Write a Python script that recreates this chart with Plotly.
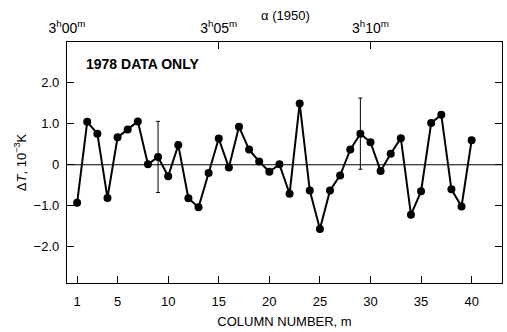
import plotly.graph_objects as go

columns = list(range(1, 41))
delta_t = [-0.93, 1.05, 0.76, -0.81, 0.67, 0.86, 1.06, 0.01, 0.19, -0.28,
           0.48, -0.82, -1.04, -0.20, 0.64, -0.07, 0.93, 0.37, 0.08, -0.17,
           0.01, -0.71, 1.50, -0.63, -1.57, -0.63, -0.26, 0.37, 0.76, 0.55,
           -0.15, 0.27, 0.65, -1.22, -0.65, 1.02, 1.22, -0.60, -1.02, 0.60]
err_cols = [9, 29]
err_vals = [0.87, 0.87]
x_ticks = [1, 5, 10, 15, 20, 25, 30, 35, 40]
y_ticks = [2.0, 1.0, 0, -1.0, -2.0]
y_labels = ["2.0", "1.0", "0", "\u22121.0", "\u22122.0"]
ra_pos = [0, 15, 30]
ra_labels = ["3<sup>h</sup>00<sup>m</sup>", "3<sup>h</sup>05<sup>m</sup>", "3<sup>h</sup>10<sup>m</sup>"]

font = "Liberation Sans, Arial, sans-serif"

fig = go.Figure()
fig.add_trace(go.Scatter(
    x=err_cols,
    y=[delta_t[c - 1] for c in err_cols],
    mode="markers", marker=dict(size=1, color="rgba(0,0,0,0)"),
    error_y=dict(type="data", array=err_vals, visible=True, color="black",
                 thickness=1, width=2),
    showlegend=False, hoverinfo="skip"))
fig.add_trace(go.Scatter(
    x=columns, y=delta_t, mode="lines+markers",
    line=dict(color="black", width=2),
    marker=dict(size=8, color="black"),
    showlegend=False))
fig.add_trace(go.Scatter(x=[0, 43], y=[None, None], xaxis="x2", mode="markers",
                         showlegend=False, hoverinfo="skip"))

fig.add_shape(type="line", xref="x", yref="y", x0=0, x1=43, y0=0, y1=0,
              line=dict(color="black", width=1), layer="below")

fig.add_annotation(text="<b>1978 DATA ONLY</b>", xref="paper", yref="paper",
                   x=0.04, y=0.91, xanchor="left", yanchor="middle",
                   showarrow=False, font=dict(size=14, color="black", family=font))
fig.add_annotation(text="\u03b1 (1950)", xref="paper", yref="paper",
                   x=0.503, y=1.108, xanchor="center", yanchor="middle",
                   showarrow=False, font=dict(size=13, color="black", family=font))

axis_common = dict(showline=True, linecolor="black", linewidth=1.3,
                   ticks="inside", ticklen=7, tickcolor="black",
                   showgrid=False, zeroline=False)

fig.update_layout(
    width=507, height=332,
    margin=dict(l=67, r=5, t=42, b=49),
    paper_bgcolor="white", plot_bgcolor="white",
    font=dict(family=font, color="black"),
    xaxis=dict(range=[0, 43], tickvals=x_ticks, mirror=False,
               ticklabelstandoff=6,
               tickfont=dict(size=13, color="black", family=font),
               title=dict(text="COLUMN NUMBER, m", font=dict(size=13, family=font), standoff=9),
               **axis_common),
    xaxis2=dict(range=[0, 43], overlaying="x", side="top", tickvals=ra_pos,
                ticktext=ra_labels, ticklabelstandoff=2,
                tickfont=dict(size=14, color="black", family=font),
                **axis_common),
    yaxis=dict(range=[-2.89, 3.0], tickvals=y_ticks, ticktext=y_labels,
               mirror="ticks", ticklabelstandoff=4,
               tickfont=dict(size=13, color="black", family=font),
               title=dict(text="\u0394<i>T</i>, 10<sup>\u22123</sup>K",
                          font=dict(size=13, family=font), standoff=4),
               **axis_common),
)

fig.write_html("out.html")
